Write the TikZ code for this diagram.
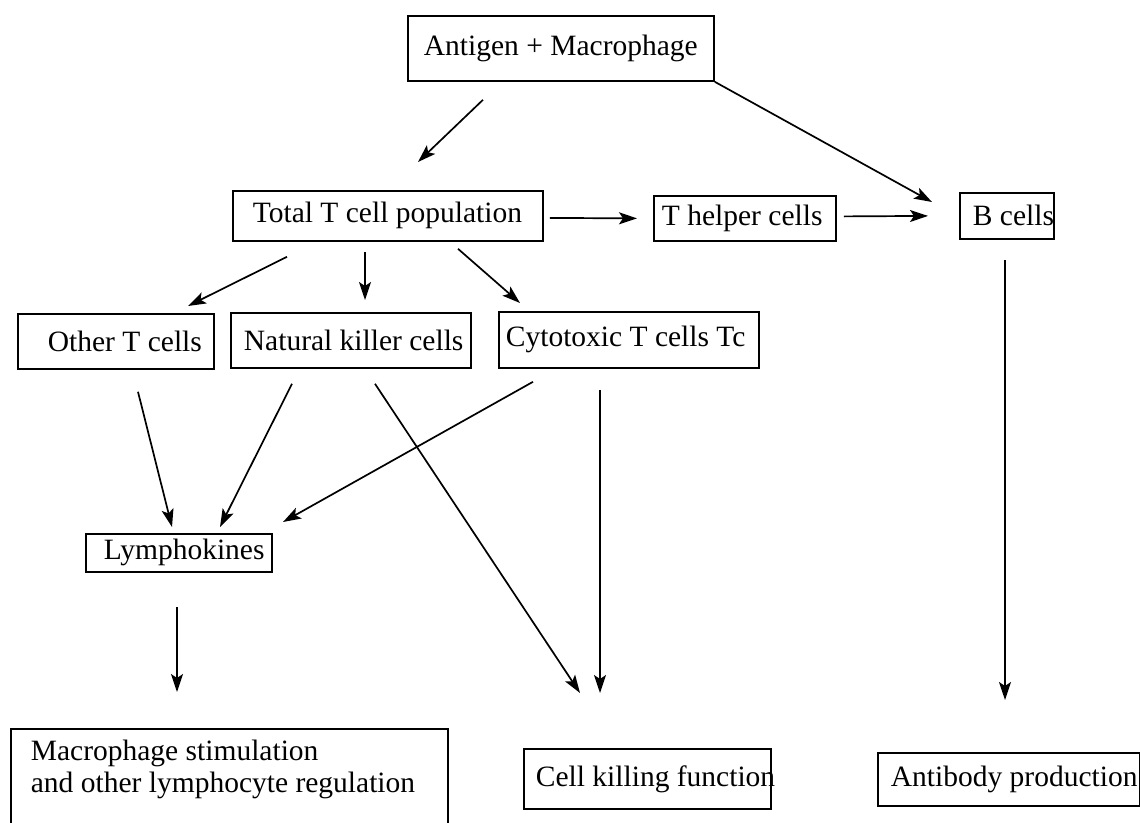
\documentclass[tikz,border=0pt]{standalone}
\usepackage{fontspec}
\setmainfont{Liberation Serif}
\usetikzlibrary{arrows.meta}
% fixed-width label: width, left padding, text
\newcommand\lbltext[3]{\makebox[#1pt][l]{\hspace*{#2pt}#3}}

\begin{document}
\begin{tikzpicture}[x=1pt,y=-1pt,
  box/.style={draw, line width=1.8pt, inner sep=0pt, anchor=north west,
    minimum height=#1, font=\fontsize{29.5}{32}\selectfont},
  arr/.style={line width=1.7pt, -{Stealth[length=18pt,width=12pt,inset=4pt]}}]
\clip (0,0) rectangle (1140,822);
\fill[white] (0,0) rectangle (1140,822);

% boxes
\node[box=65pt] (ag) at (407,15)  {\lbltext{306}{16}{Antigen + Macrophage}};
\node[box=50pt] (tt) at (232,190) {\lbltext{310}{20}{Total T cell population}};
\node[box=45pt] (th) at (653,195) {\lbltext{182}{8}{T helper cells}};
\node[box=46pt] (bc) at (959,192) {\lbltext{94}{13}{B cells}};
\node[box=55pt] (ot) at (17,313)  {\lbltext{196}{30}{Other T cells}};
\node[box=55pt] (nk) at (230,312) {\lbltext{240}{13}{Natural killer cells}};
\node[box=56pt] (ct) at (498,311) {\lbltext{260}{7}{Cytotoxic T cells Tc}};
\node[box=38pt] (ly) at (85,533)  {\lbltext{186}{18}{Lymphokines}};
\node[box=60pt] (ck) at (523,748) {\lbltext{247}{12}{Cell killing function}};
\node[box=53pt] (ab) at (877,752) {\lbltext{262}{13}{Antibody production}};
\node[box=10pt, inner xsep=20pt, inner ysep=11pt] (ms) at (10,728)
  {\parbox[t][100pt][t]{397pt}{Macrophage stimulation\\and other lymphocyte regulation}};

% connectors
\draw[arr] ([shift={(76,18)}]ag.south west) -- ([shift={(186,-28)}]tt.north west);
\draw[arr] (ag.south east) -- ([shift={(-27,10)}]bc.north west);
\draw[arr] ([shift={(6,2)}]tt.east) -- ([shift={(-16,0)}]th.west);
\draw[arr] ([shift={(7,-2)}]th.east) -- ([shift={(-31,0)}]bc.west);
\draw[arr] ([shift={(55,15)}]tt.south west) -- ([shift={(171,-7)}]ot.north west);
\draw[arr] ([shift={(133,10)}]tt.south west) -- ([shift={(135,-12)}]nk.north west);
\draw[arr] ([shift={(226,7)}]tt.south west) -- ([shift={(22,-8)}]ct.north west);
\draw[arr] ([shift={(46,20)}]bc.south west) -- ([shift={(128,-52)}]ab.north west);
\draw[arr] ([shift={(121,22)}]ot.south west) -- ([shift={(87,-6)}]ly.north west);
\draw[arr] ([shift={(62,15)}]nk.south west) -- ([shift={(135,-6)}]ly.north west);
\draw[arr] ([shift={(35,13)}]ct.south west) -- ([shift={(198,-11)}]ly.north west);
\draw[arr] ([shift={(145,15)}]nk.south west) -- ([shift={(57,-55)}]ck.north west);
\draw[arr] ([shift={(102,21)}]ct.south west) -- ([shift={(77,-55)}]ck.north west);
\draw[arr] ([shift={(92,34)}]ly.south west) -- ([shift={(167,-36)}]ms.north west);
\end{tikzpicture}
\end{document}
